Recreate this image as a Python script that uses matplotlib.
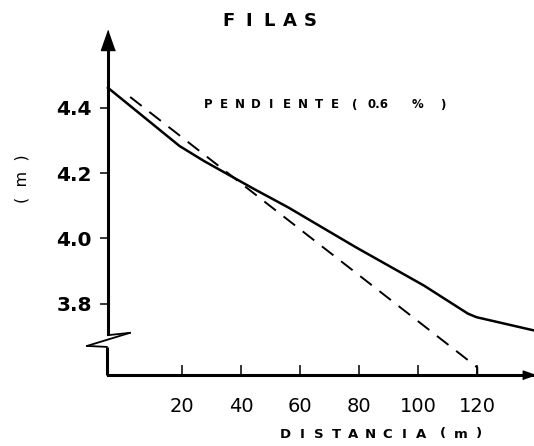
import matplotlib
matplotlib.use('Agg')
import matplotlib.pyplot as plt

# solid curve: measured profile of the row
dist_real = [-5, 19.2, 27.3, 44.5, 56, 78.9, 101.9, 116.8, 119.7, 138.9]
elev_real = [4.461, 4.283, 4.238, 4.151, 4.095, 3.973, 3.856, 3.770, 3.759, 3.719]
# dashed line: design slope (0.6 %)
dist_slope = [2.5, 116.5, 120, 120]
elev_slope = [4.433, 3.630, 3.605, 3.582]

xticks = [20, 40, 60, 80, 100, 120]
yticks = [3.8, 4.0, 4.2, 4.4]

W, H = 534, 446
fig = plt.figure(figsize=(W / 100, H / 100), dpi=100)
ax = fig.add_axes([108 / W, 1 - 375 / H, (534 - 108) / W, (375 - 30) / H])
ax.set_xlim(-5, 139.2)
ax.set_ylim(3.582, 4.638)

ax.plot(dist_real, elev_real, color='black', lw=1.8, clip_on=False, solid_joinstyle='round')
ax.plot(dist_slope, elev_slope, color='black', lw=1.4, dashes=(7.5, 5), clip_on=False)

for s in ['top', 'right']:
    ax.spines[s].set_visible(False)
ax.spines['left'].set_linewidth(2.2)
ax.spines['bottom'].set_linewidth(2.2)
ax.spines['left'].set_bounds(3.707, 4.59)

# axis break and the lower piece of the y-axis
ax.plot([-5, 2.4], [3.704, 3.711], color='black', lw=1.3, clip_on=False)
ax.plot([2.4, -12.1], [3.711, 3.671], color='black', lw=1.3, clip_on=False)
ax.plot([-12.1, -5.4], [3.671, 3.668], color='black', lw=1.3, clip_on=False)
ax.plot([-5.4, -5.4], [3.668, 3.582], color='black', lw=2.2, clip_on=False, solid_capstyle='butt')

# arrow heads
ax.plot([-5], [4.608], marker=[(0, 1), (-0.7, -1), (0.7, -1)], color='black', ms=14.4, clip_on=False)
ax.plot([137.5], [3.582], marker=[(1, 0), (-1, 0.7), (-1, -0.7)], color='black', ms=9, clip_on=False)

ax.set_xticks(xticks)
ax.set_xticklabels([str(v) for v in xticks], fontsize=14, family='DejaVu Sans')
ax.set_yticks(yticks)
ax.set_yticklabels(['%.1f' % v for v in yticks], fontsize=14.5, fontweight='bold',
                   family='DejaVu Sans')
ax.tick_params(axis='x', direction='in', length=7, width=1.1, pad=16)
ax.tick_params(axis='y', direction='out', length=5.8, width=1.1, pad=5.8)


def letters(chars, xs, y, **kw):
    for ch, x in zip(chars, xs):
        fig.text(x / W, 1 - y / H, ch, ha='center', va='center', **kw)


def spread(text, x0, x1, y, **kw):
    n = len(text)
    xs = [x0 + (x1 - x0) * i / (n - 1) for i in range(n)]
    letters(text, xs, y, **kw)


bold = dict(fontweight='bold', family='DejaVu Sans')
spread('FILAS', 228, 310, 21, fontsize=13, **bold)
spread('PENDIENTE', 208, 335, 105, fontsize=8.5, **bold)
letters(['(', '0.6', '%', ')'], [355, 378, 418, 443], 105, fontsize=8.5, **bold)
spread('DISTANCIA', 285, 421, 434, fontsize=9.5, **bold)
spread('(m)', 443, 479, 434, fontsize=9.5, **bold)
fig.text(22 / W, 1 - 179 / H, '(  m  )', ha='center', va='center', rotation=90,
         fontsize=11.5, family='DejaVu Sans')

fig.savefig('out.png', dpi=100)
